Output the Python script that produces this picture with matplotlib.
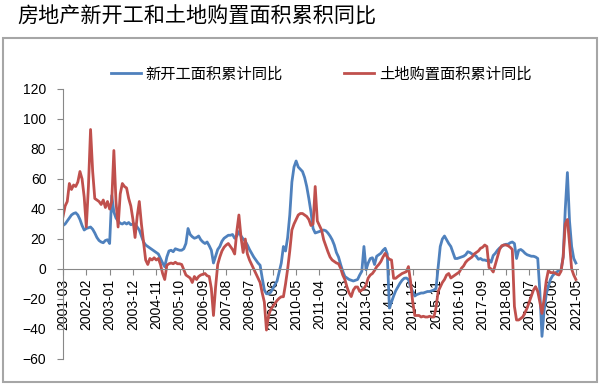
import matplotlib.pyplot as plt
import matplotlib.patches as patches
import pandas as pd

plt.rcParams['font.family'] = ['Liberation Sans', 'DejaVu Sans']

title = "房地产新开工和土地购置面积累积同比"
name1 = "新开工面积累计同比"
name2 = "土地购置面积累计同比"

# monthly, 2001-03 .. 2021-05
dates = pd.date_range('2001-03-01', periods=243, freq='MS').strftime('%Y-%m')

new_starts = [
    29, 30, 32, 34, 36, 37, 37.5, 36, 33, 29,                      # 2001
    26, 27, 27.5, 28, 26.5, 24, 21, 19, 18, 17.5, 19, 19.5,        # 2002
    17, 49, 38, 34, 32, 30.5, 30, 31, 30, 31, 29.5, 30,            # 2003
    30, 28, 26, 22, 18, 16, 15, 14, 13, 12, 11, 10,                # 2004
    7, 4, 1.5, 8, 12, 12.5, 11.5, 13.5, 13, 12.5, 12.5, 13.5,      # 2005
    17, 27, 23, 21.5, 20.5, 21, 22, 19.5, 18, 17, 18, 15.5,        # 2006
    12.5, 4, 8.5, 13, 15, 18.5, 20.5, 21.5, 22.5, 22.5, 23, 20.5,  # 2007
    22, 25, 22, 20, 18.5, 16, 13, 10.5, 8, 6, 4, 2.5,              # 2008
    -6, -14, -16.5, -16.5, -15.5, -13, -10.5, -8, -2, 4, 15, 12,   # 2009
    21, 36, 58, 68, 72, 68, 66.5, 65, 61, 55, 47, 38,              # 2010
    27, 24, 24.5, 25, 25.5, 26, 25.5, 24, 22, 19.5, 16, 11,        # 2011
    8, 3, -1.5, -5, -6, -7, -7.5, -8, -7.5, -7, -4, -1.5,          # 2012
    15, -0.5, 4, 7, 7.5, 3, 8.5, 9.5, 10.5, 12.5, 13.8, 10,        # 2013
    -26, -22, -18, -14.5, -12, -9.5, -7.5, -6.2, -6, -7, -12, -15, # 2014
    -18, -17, -16.5, -16, -16, -15.5, -15, -15, -14.5, -14, -13, 1,  # 2015
    15, 20, 22, 19.5, 17, 15, 11, 7, 7, 7.5, 8, 8.5,               # 2016
    9.5, 11.5, 11, 10, 9.5, 8.5, 6.5, 7, 6, 6, 5.5, 6,             # 2017
    4.5, 9, 10.5, 12.5, 14, 15, 16, 16.5, 16.5, 17.5, 18, 17,      # 2018
    7, 12.5, 13, 12, 10.5, 9.5, 9, 8.5, 8.5, 8, 7, -15,            # 2019
    -44.9, -28, -17, -11.5, -7, -4.5, -3, -2, -1, -0.7, 8, 40,     # 2020
    64.3, 32, 15, 7, 4,                                            # 2021
]

land = [
    35, 42, 45, 57, 53, 56, 55, 58, 65, 60,                        # 2001
    48, 28, 55, 93, 65, 47, 46, 45, 43, 46, 41, 45,                # 2002
    40, 45, 79, 45, 28, 50, 57, 55, 54, 47, 42, 33,                # 2003
    21, 35, 45, 30, 18, 6, 3, 7, 6, 7.5, 6, 7,                     # 2004
    3, -3, -7, 2.5, 3.5, 4, 3.5, 4.5, 3.5, 3.5, 3, -0.5,           # 2005
    -4, -5, -6, -9, -5, -7, -5, -4, -3.5, -3, -4.5, -5,            # 2006
    -13, -31, -12, 3, 8, 12, 14.5, 16, 17, 15, 13, 10,             # 2007
    25, 36, 21, 11, 20, 10, 6, 3, 0, -3, -6, -9,                   # 2008
    -16, -22, -40.7, -31, -27, -25, -23, -21, -19.5, -18.5, -18.5, -10,  # 2009
    0, 12, 26, 30, 33, 36, 37, 37, 36, 35, 33, 29,                 # 2010
    30, 55, 32, 29, 26, 19.5, 15.5, 11.5, 8, 6, 5, 4,              # 2011
    3.5, 0.5, -4, -7, -12, -16, -18.4, -14, -12, -12, -15, -14,    # 2012
    -13, -10.7, -6, -4, -3, -1, 1.5, 3, 5, 8, 10.4, 8,             # 2013
    6.5, 6, -6.2, -6.2, -5, -4, -3, -2.4, -1.8, 1.6, -8.4, -22,    # 2014
    -31, -31, -31, -32, -31.5, -32, -32, -31.5, -32, -32, -26, -15,  # 2015
    -12, -9, -7, -4, -3, -6, -5, -4, -3, -2, 0.5, 2,               # 2016
    4.5, 6, 7, 8, 10, 11, 12, 13.8, 14.5, 16, 15, 1,               # 2017
    0, -2, 3, 8, 13, 15.5, 16, 16, 15.5, 14.5, 13, -25,            # 2018
    -34, -34, -33, -31.8, -29, -26, -22, -18, -14, -11.8, -15, -22,  # 2019
    -29.6, -20, -8, -1, -2.4, -2.4, -2.5, -3.5, -4, -1.5, 8, 30,   # 2020
    33, 17, 0, -4, -7,                                             # 2021
]

yticks = [-60, -40, -20, 0, 20, 40, 60, 80, 100, 120]

fig = plt.figure(figsize=(6, 3.85), dpi=100)
ax = fig.add_axes([63/600, 1-359/385, 515/600, 270/385])
ax.set_axisbelow(True)

x = list(range(len(dates)))
l1, = ax.plot(x, new_starts, color='#4F81BD', lw=2.0, label=name1)
l2, = ax.plot(x, land, color='#C0504D', lw=2.0, label=name2)

for s in ['top', 'right']:
    ax.spines[s].set_visible(False)
ax.spines['bottom'].set_position(('data', 0))
ax.spines['bottom'].set_color('#888888')
ax.spines['left'].set_color('#888888')

ax.set_xlim(0, 243)
ax.set_ylim(-60, 120)
ax.set_yticks(yticks)
ax.set_xticks(x[::11])
ax.set_xticklabels(dates[::11])
ax.tick_params(axis='y', direction='out', length=4, pad=8, labelsize=10, color='#888888')
ax.tick_params(axis='x', direction='out', length=4, pad=3, labelsize=10, color='#888888',
               labelrotation=90)

leg = ax.legend(handles=[l1, l2], ncol=2, loc='center',
                bbox_to_anchor=(321/600, 1-74/385), bbox_transform=fig.transFigure,
                frameon=False, prop={'family': ['Noto Sans CJK SC'], 'size': 11},
                handlelength=1.96, handletextpad=0.33, columnspacing=4.0)

fig.text(17/600, 1-17/385, title, fontsize=15.2, family=['Noto Sans CJK SC'], va='center', ha='left')

box = patches.Rectangle((3/600, 3/385), 594/600, 344/385, transform=fig.transFigure,
                        fill=False, edgecolor='#a6a6a6', lw=1.5)
fig.add_artist(box)

plt.savefig('out.png', dpi=100)
